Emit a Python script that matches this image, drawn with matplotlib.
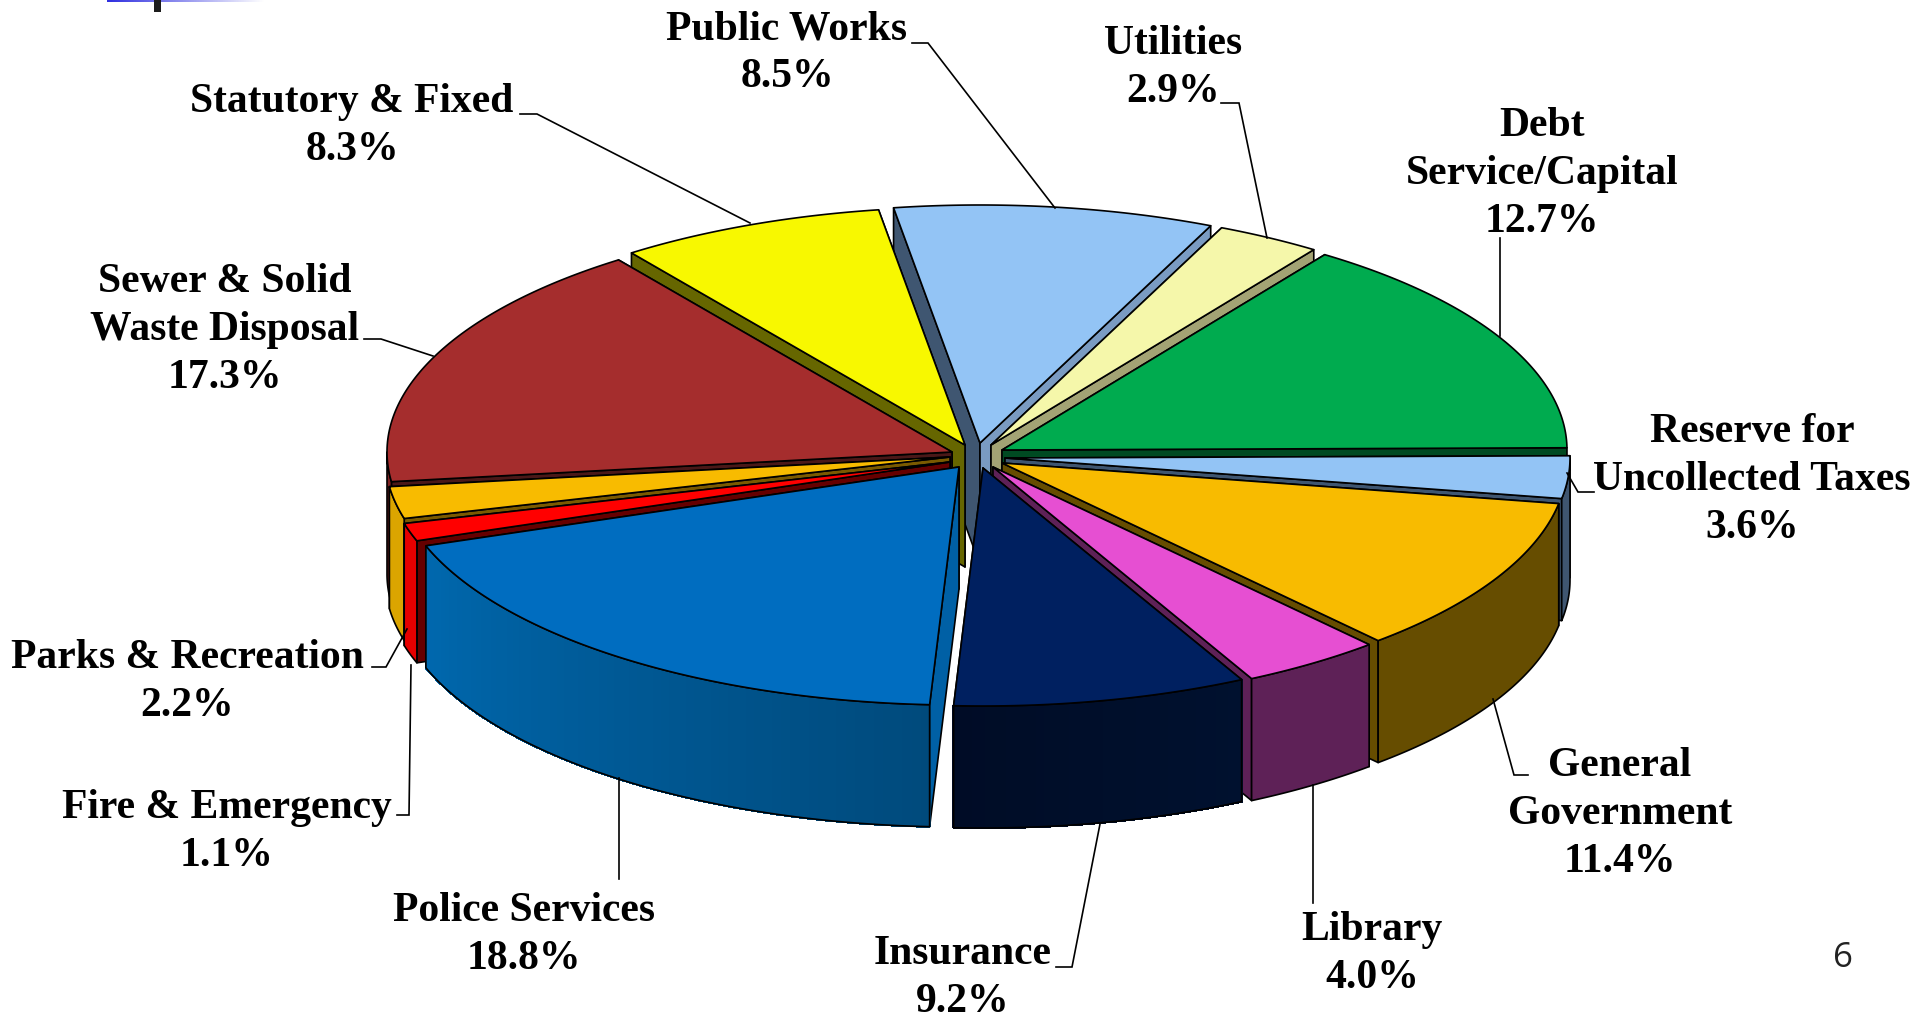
import numpy as np
import matplotlib
matplotlib.use("Agg")
import matplotlib.pyplot as plt
from matplotlib.patches import Polygon, Rectangle

# ---- data -------------------------------------------------------------
categories = ["Public Works", "Utilities", "Debt\nService/Capital",
              "Reserve for\nUncollected Taxes", "General\nGovernment", "Library",
              "Insurance", "Police Services", "Fire & Emergency",
              "Parks & Recreation", "Sewer & Solid\nWaste Disposal", "Statutory & Fixed"]
shares = [8.5, 2.9, 12.7, 3.6, 11.4, 4.0, 9.2, 18.8, 1.1, 2.2, 17.3, 8.3]
share_labels = ["8.5%", "2.9%", "12.7%", "3.6%", "11.4%", "4.0%",
                "9.2%", "18.8%", "1.1%", "2.2%", "17.3%", "8.3%"]

# ---- styles -----------------------------------------------------------
top_colors = ["#93C4F5", "#F5F7AA", "#00AB4F", "#93C4F5", "#F8BB00", "#E64FD2",
              "#002060", "#006DC0", "#FF0000", "#F8BB00", "#A52D2D", "#F8F800"]
start_cut = ["#3F5671", "#A3A374", "#004A22", "#3F5671", "#664D00", "#5E2157",
             "#00112F", "#0060A5", "#650000", "#7A5A00", "#4A1818", "#666600"]
end_cut = ["#7A9BC2", "#A3A374", "#004A22", "#3F5671", "#664D00", "#5E2157",
           "#00112F", "#0060A5", "#650000", "#7A5A00", "#4A1818", "#666600"]
# wall colours at the start and the end of each slice's rim (clockwise)
wall_start = ["#3F5671", "#A3A374", "#004A22", "#3F5671", "#664D00", "#5E2157",
              "#00112F", "#004A7C", "#E60000", "#DBA500", "#7E2222", "#666600"]
wall_end = ["#3F5671", "#A3A374", "#004A22", "#3F5671", "#664D00", "#5E2157",
            "#000C26", "#0068AE", "#E60000", "#DBA500", "#7E2222", "#666600"]

# ---- layout (reference pixels) ----------------------------------------
W, H = 1914, 1022
Rx, Ry, depth = 565.0, 238.0, 122.0
first_angle = -8.8
rim_warp = [2.3, 2.6, 11.5, 8.9, 6.3, 6.4, 3.5, 3.5, 3.9, 3.8, 2.5, 0.0]
centre = (975.0, 455.0)
explode = [(5, -12), (16, -10), (27, -5), (30, 3), (27, 8), (18, 12),
           (8, 13), (-16, 12), (-25, 7), (-25, 2), (-23, -3), (-10, -10)]
draw_order = [0, 11, 1, 2, 10, 3, 9, 8, 4, 7, 5, 6]

label_xy = [(787, 53), (1173, 68), (1542, 174), (1752, 480), (1620, 814),
            (1372, 954), (963, 978), (524, 935), (227, 832), (187, 682),
            (225, 330), (352, 126)]
leaders = [
    [(912, 43), (928, 43), (1055, 208)],
    [(1221, 103), (1239, 103), (1267, 238)],
    [(1500, 238), (1500, 336)],
    [(1594, 492), (1578, 492), (1567, 473)],
    [(1528, 775), (1514, 775), (1493, 699)],
    [(1313, 903), (1313, 785)],
    [(1056, 967), (1072, 967), (1100, 824)],
    [(619, 879), (619, 778)],
    [(397, 815), (409, 815), (411, 665)],
    [(372, 667), (386, 667), (407, 629)],
    [(364, 339), (381, 339), (433, 356)],
    [(520, 114), (537, 114), (750, 223)],
]

# ---- geometry from the values ------------------------------------------
bounds = first_angle + 3.6 * np.cumsum(shares) + np.array(rim_warp)
starts = np.r_[first_angle, bounds[:-1]]
ends = bounds


def blend(c1, c2, f):
    a = np.array(matplotlib.colors.to_rgb(c1))
    b = np.array(matplotlib.colors.to_rgb(c2))
    return tuple(a + (b - a) * f)


def rim(ax0, ay0, t):
    r = np.radians(t)
    return np.c_[ax0 + Rx * np.sin(r), ay0 - Ry * np.cos(r)]


fig = plt.figure(figsize=(W / 100, H / 100), dpi=100, facecolor="white")
ax = fig.add_axes([0, 0, 1, 1])
ax.set_xlim(0, W)
ax.set_ylim(H, 0)
ax.axis("off")

EDGE = dict(edgecolor="black", linewidth=1.2, joinstyle="round")
z = 10
for i in draw_order:
    ax0 = centre[0] + explode[i][0]
    ay0 = centre[1] + explode[i][1]
    t0, t1 = starts[i], ends[i]
    apex = np.array([ax0, ay0])
    drop = np.array([0, depth])
    p0 = rim(ax0, ay0, t0)[0]
    p1 = rim(ax0, ay0, t1)[0]
    # radial cut faces: the one reaching further forward goes on top
    faces = sorted(((p0, start_cut[i]), (p1, end_cut[i])), key=lambda f: f[0][1])
    for p, col in faces:
        ax.add_patch(Polygon([apex, p, p + drop, apex + drop], closed=True,
                             facecolor=col, zorder=z, **EDGE))
        z += 1
    # outer wall (only the front half of the rim is visible)
    a = max(t0, 90.0)
    b = min(t1, 270.0)
    if b > a:
        ts = np.linspace(a, b, 71)
        if wall_start[i] != wall_end[i]:
            for k in range(len(ts) - 1):
                seg = rim(ax0, ay0, ts[k:k + 2])
                col = blend(wall_start[i], wall_end[i], (k + .5) / (len(ts) - 1))
                ax.add_patch(Polygon(np.r_[seg, seg[::-1] + drop], closed=True,
                                     facecolor=col, edgecolor=col, linewidth=1.0,
                                     antialiased=False, zorder=z))
            face = "none"
        else:
            face = wall_start[i]
        z += 1
        arc = rim(ax0, ay0, ts)
        ax.add_patch(Polygon(np.r_[arc, arc[::-1] + drop], closed=True,
                             facecolor=face, zorder=z, **EDGE))
        z += 1
    # top face
    arc = rim(ax0, ay0, np.linspace(t0, t1, 90))
    ax.add_patch(Polygon(np.r_[[apex], arc], closed=True,
                         facecolor=top_colors[i], zorder=z, **EDGE))
    z += 1

SERIF = ["Liberation Serif", "DejaVu Serif"]
for name, pct, (x, y), pts in zip(categories, share_labels, label_xy, leaders):
    ax.text(x, y, f"{name}\n{pct}", ha="center", va="center", family=SERIF,
            fontweight="bold", fontsize=30, linespacing=1.34, color="black", zorder=200)
    xs, ys = zip(*pts)
    ax.plot(xs, ys, color="black", lw=1.2, solid_joinstyle="miter", zorder=z + 5)

# slide number and the remains of the slide title at the top edge
ax.text(1843, 958, "6", ha="center", va="center", family="Open Sans",
        fontsize=25, color="#222222", zorder=200)
ax.add_patch(Rectangle((154, 0), 7, 12, facecolor="#1c1c1c", edgecolor="none", zorder=200))
fade = np.linspace(0, 1, 60)
ax.imshow(np.array([[blend("#3030E0", "white", f) for f in fade]]),
          extent=(107, 265, 2, 0), aspect="auto", zorder=199)
ax.set_xlim(0, W)
ax.set_ylim(H, 0)

fig.savefig("out.png", dpi=100, facecolor="white")
